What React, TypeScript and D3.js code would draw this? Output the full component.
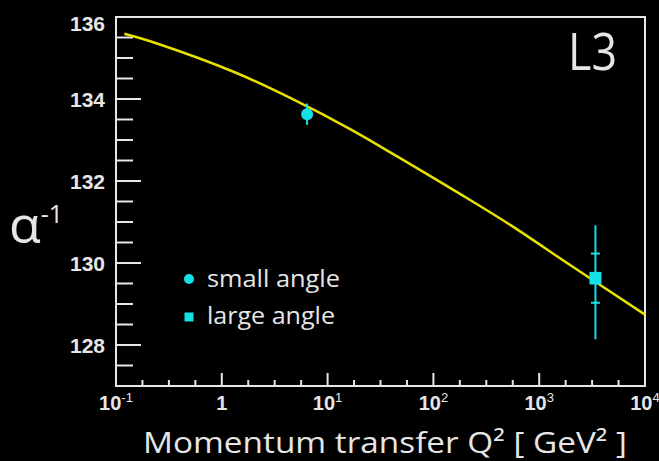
import React from "react";
import * as d3 from "d3";

// Running coupling curve, alpha^-1 vs Q^2 (GeV^2)
const curveQ2 = [0.12, 0.24, 1.36, 4.48, 16.5, 48.9, 180, 532, 1960, 10000];
const curveAlphaInv = [135.59, 135.36, 134.64, 134.02, 133.26, 132.55, 131.68, 130.93, 129.95, 128.74];

// L3 small-angle Bhabha measurement
const smallQ2 = [6.4];
const smallAlphaInv = [133.63];
const smallErr = [0.26];

// L3 large-angle measurement (stat + total errors)
const largeQ2 = [3400];
const largeAlphaInv = [129.63];
const largeStat = [0.6];
const largeErrUp = [1.29];
const largeErrDown = [1.49];

// Axis ticks
const yMajorTicks = [128, 130, 132, 134, 136];
const yMinorTicks = d3.range(127, 136.01, 0.5).filter((v) => !yMajorTicks.includes(v));
const xDecades = [-1, 0, 1, 2, 3, 4];
const xMinorSteps = [0.25, 0.5, 0.75];

const legendLabels = ["small angle", "large angle"];

const W = 659;
const H = 461;
const frame = { left: 116, right: 645, top: 17, bottom: 386 };

const FG = "#e6e6e6";
const CYAN = "#14e0e6";
const YELLOW = "#e8e000";

export default function App() {
  const x = d3.scaleLog().domain([0.1, 1e4]).range([frame.left, frame.right]);
  const y = d3.scaleLinear().domain([127, 136]).range([frame.bottom, frame.top]);

  const line = d3
    .line<number>()
    .x((_, i) => x(curveQ2[i]))
    .y((d) => y(d))
    .curve(d3.curveCatmullRom.alpha(0.5));

  const minorX: number[] = [];
  xDecades.slice(0, -1).forEach((d) => xMinorSteps.forEach((s) => minorX.push(Math.pow(10, d + s))));

  const tickFont = "'Liberation Sans', Arial, sans-serif";
  const textFont = "'Open Sans', sans-serif";

  return (
    <svg
      width={W}
      height={H}
      style={{ position: "fixed", left: 0, top: 0, background: "#000" }}
    >
      <rect x={0} y={0} width={W} height={H} fill="#000" />

      {/* frame */}
      <rect
        x={frame.left}
        y={frame.top}
        width={frame.right - frame.left}
        height={frame.bottom - frame.top}
        fill="none"
        stroke={FG}
        strokeWidth={2}
      />

      {/* y ticks */}
      {yMajorTicks.map((v) => (
        <g key={"ym" + v}>
          <line x1={frame.left} x2={frame.left + 25} y1={y(v)} y2={y(v)} stroke={FG} strokeWidth={2} />
          <text
            x={105}
            y={y(v) + (v === 136 ? 6 : 0)}
            textAnchor="end"
            dominantBaseline="central"
            fill={FG}
            fontFamily={tickFont}
            fontWeight="bold"
            fontSize={21}
          >
            {v}
          </text>
        </g>
      ))}
      {yMinorTicks.map((v) => (
        <line key={"yn" + v} x1={frame.left} x2={frame.left + 17} y1={y(v)} y2={y(v)} stroke={FG} strokeWidth={2} />
      ))}

      {/* x ticks */}
      {xDecades.map((d) => (
        <g key={"xm" + d}>
          <line
            x1={x(Math.pow(10, d))}
            x2={x(Math.pow(10, d))}
            y1={frame.bottom}
            y2={frame.bottom - 13}
            stroke={FG}
            strokeWidth={2}
          />
          <text
            x={x(Math.pow(10, d))}
            y={410}
            textAnchor="middle"
            fill={FG}
            fontFamily={tickFont}
            fontWeight="bold"
            fontSize={20}
          >
            {d === 0 ? (
              "1"
            ) : (
              <>
                <tspan>10</tspan>
                <tspan dy={-8} fontSize={13} fontWeight="normal">
                  {d === -1 ? "-1" : String(d)}
                </tspan>
              </>
            )}
          </text>
        </g>
      ))}
      {minorX.map((q, i) => (
        <line key={"xn" + i} x1={x(q)} x2={x(q)} y1={frame.bottom} y2={frame.bottom - 6} stroke={FG} strokeWidth={2} />
      ))}

      {/* running coupling curve */}
      <path d={line(curveAlphaInv) || ""} fill="none" stroke={YELLOW} strokeWidth={2.5} />

      {/* small-angle point */}
      {smallQ2.map((q, i) => (
        <g key={"s" + i}>
          <line
            x1={x(q)}
            x2={x(q)}
            y1={y(smallAlphaInv[i] + smallErr[i])}
            y2={y(smallAlphaInv[i] - smallErr[i])}
            stroke={CYAN}
            strokeWidth={2}
          />
          <circle cx={x(q)} cy={y(smallAlphaInv[i])} r={6} fill={CYAN} />
        </g>
      ))}

      {/* large-angle point */}
      {largeQ2.map((q, i) => {
        const cx = x(q);
        return (
          <g key={"l" + i}>
            <line
              x1={cx}
              x2={cx}
              y1={y(largeAlphaInv[i] + largeErrUp[i])}
              y2={y(largeAlphaInv[i] - largeErrDown[i])}
              stroke={CYAN}
              strokeWidth={2}
            />
            {[largeAlphaInv[i] + largeStat[i], largeAlphaInv[i] - largeStat[i]].map((v, j) => (
              <line key={j} x1={cx - 4.5} x2={cx + 4.5} y1={y(v)} y2={y(v)} stroke={CYAN} strokeWidth={2} />
            ))}
            <rect x={cx - 6} y={y(largeAlphaInv[i]) - 6.3} width={12} height={12.6} fill={CYAN} />
          </g>
        );
      })}

      {/* legend */}
      <circle cx={189} cy={279} r={5} fill={CYAN} />
      <rect x={184.5} y={312.5} width={9} height={9} fill={CYAN} />
      {legendLabels.map((t, i) => (
        <text
          key={t}
          x={207}
          y={i === 0 ? 287 : 324}
          fill={FG}
          fontFamily={textFont}
          fontSize={23}
          textLength={i === 0 ? 133 : 128}
          lengthAdjust="spacingAndGlyphs"
        >
          {t}
        </text>
      ))}

      {/* experiment label */}
      <text x={568} y={70} fill={FG} fontFamily={textFont} fontSize={52} textLength={49} lengthAdjust="spacingAndGlyphs">
        L3
      </text>

      {/* axis titles */}
      <text x={9} y={243} fill={FG} fontFamily={textFont} fontSize={52}>
        α<tspan dy={-20} fontSize={25}>-1</tspan>
      </text>
      <text
        x={143}
        y={453}
        fill={FG}
        fontFamily={textFont}
        fontSize={30}
        textLength={484}
        lengthAdjust="spacingAndGlyphs"
      >
        Momentum transfer Q² [ GeV² ]
      </text>
    </svg>
  );
}
